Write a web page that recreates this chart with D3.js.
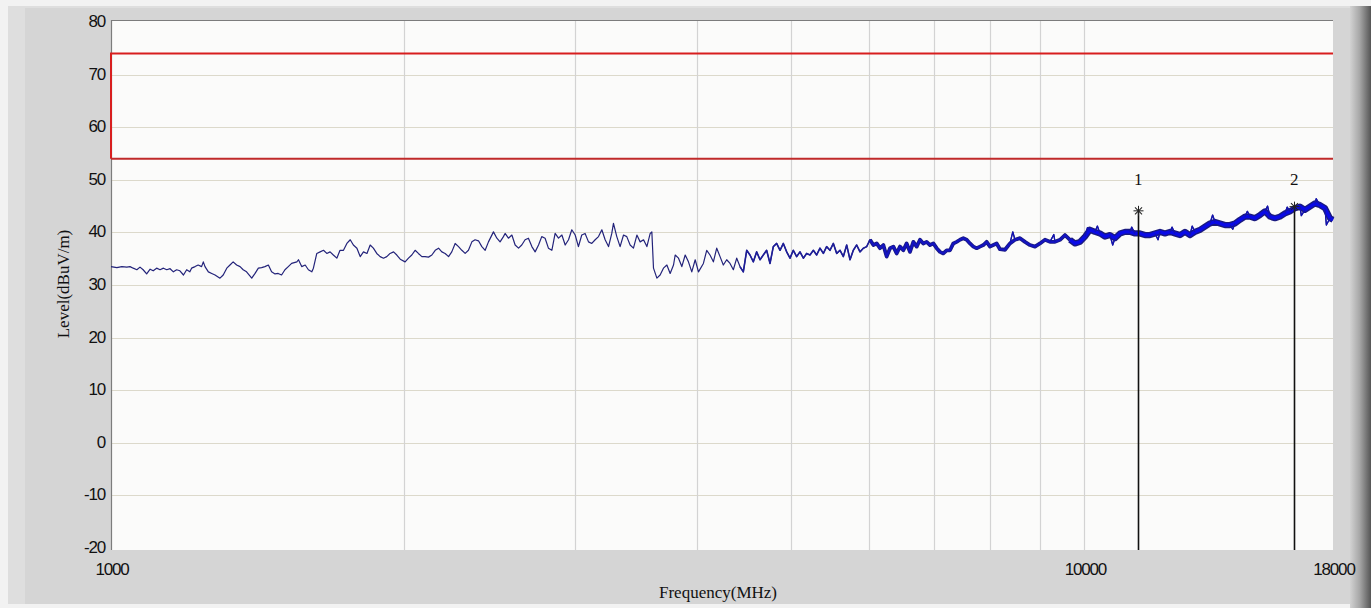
<!DOCTYPE html>
<html>
<head>
<meta charset="utf-8">
<script src="https://cdn.jsdelivr.net/npm/d3@7/dist/d3.min.js"></script>
<style>
  body { margin: 0; background: #d6d6d6; overflow: hidden; }
  svg { display: block; }
  .tick { font-family: "Liberation Sans", Arial, sans-serif; font-size: 17px; letter-spacing: -1.2px; fill: #111; }
  .title { font-family: "Liberation Serif", "Times New Roman", serif; font-size: 17px; fill: #111; }
</style>
</head>
<body>
<svg id="chart" width="1371" height="608"></svg>
<script>
// ---- data ----
var yTicks = [-20, -10, 0, 10, 20, 30, 40, 50, 60, 70, 80];
var xGrid = [2000, 3000, 4000, 5000, 6000, 7000, 8000, 9000, 10000];
var xLabels = [1000, 10000, 18000];

// limit lines (dBuV/m)
var limitMHz = [1000, 18000];
var limitPeak = [74, 74];
var limitAvg = [54, 54];

// measured trace
var traceMHz = [
  1000, 1014, 1026, 1038, 1046, 1054, 1063, 1071, 1079, 1088, 1097, 1105, 1114, 1123, 1132, 1141,
  1150, 1159, 1168, 1177, 1187, 1196, 1205, 1210, 1220, 1229, 1239, 1244, 1249, 1259, 1269, 1279,
  1294, 1304, 1315, 1325, 1335, 1346, 1357, 1367, 1378, 1395, 1406, 1417, 1428, 1439, 1451, 1462,
  1474, 1485, 1497, 1509, 1521, 1533, 1552, 1558, 1570, 1583, 1595, 1608, 1614, 1627, 1640, 1653,
  1666, 1679, 1692, 1706, 1719, 1733, 1747, 1761, 1774, 1789, 1803, 1817, 1832, 1846, 1860, 1875,
  1890, 1905, 1920, 1935, 1951, 1966, 1982,
  2005, 2021, 2037, 2053, 2069, 2086, 2102, 2119, 2136, 2153, 2170, 2187, 2204, 2222, 2239, 2257,
  2275, 2293, 2311, 2329, 2348, 2366, 2385, 2404, 2423, 2442, 2471, 2491, 2510, 2530, 2540, 2560,
  2581, 2601, 2622, 2642, 2663, 2684, 2706, 2727, 2749, 2770, 2792, 2814, 2837, 2859, 2882, 2905,
  2928, 2951, 2974, 2998, 3021, 3045, 3069, 3094, 3118, 3143, 3168, 3193, 3218, 3244, 3269, 3282,
  3308, 3334, 3361, 3387, 3414, 3441, 3469, 3496, 3524, 3552, 3580, 3594,
  3608, 3637, 3665, 3694, 3724, 3753, 3783, 3798, 3828, 3858, 3889, 3919, 3950, 3982, 4013,
  4060, 4092, 4124, 4157, 4190, 4223, 4256, 4290, 4324, 4358, 4393, 4427, 4462, 4498, 4533, 4569,
  4605, 4642, 4678, 4715, 4753, 4790, 4828, 4867, 4905, 4944, 4983, 5022, 5062, 5102, 5143, 5183,
  5224, 5266, 5307, 5349, 5392, 5434, 5477, 5521, 5565, 5609, 5653, 5698, 5743, 5788, 5834, 5880,
  5927, 5974, 6021, 6069, 6117, 6165, 6214, 6263, 6313, 6363, 6413, 6464, 6515, 6566, 6618, 6671,
  6724, 6777, 6830, 6884, 6939, 6994, 7049, 7105, 7161, 7218, 7275, 7333, 7391, 7449, 7508, 7568,
  7627, 7688, 7749, 7810, 7872, 7934, 7997, 8060, 8124, 8188,
  8286, 8384, 8484, 8585, 8687, 8790, 8895, 9001, 9108, 9216, 9326, 9437, 9549, 9663, 9778,
  9894, 10012, 10131, 10251, 10373, 10496, 10621, 10748, 10876, 11005, 11136, 11268, 11402,
  11538, 11675, 11814, 11955, 12097, 12241, 12386, 12534, 12683, 12834, 12986, 13141, 13297, 13455, 13615,
  13777, 13941, 14107, 14275, 14445, 14617, 14790, 14966, 15144, 15325, 15507, 15691, 15878, 16067, 16258,
  16451, 16647, 16845, 17045, 17248, 17453, 17661, 17871, 18000
];
var traceDb = [
  33.5, 33.3, 33.5, 33.4, 33.5, 33.2, 32.9, 33.4, 32.9, 32.1, 33.0, 32.7, 33.2, 32.9, 33.2, 32.9,
  33.1, 32.5, 32.9, 32.7, 31.9, 32.9, 32.5, 33.2, 33.5, 33.8, 33.5, 34.4, 33.5, 32.5, 32.2, 31.9,
  31.3, 31.9, 33.2, 33.8, 34.4, 33.8, 33.5, 32.9, 32.5, 31.3, 32.2, 33.2, 33.3, 33.5, 33.8, 32.5,
  32.1, 32.2, 31.9, 32.9, 33.5, 34.1, 34.4, 34.8, 33.5, 33.8, 32.9, 32.5, 33.2, 36.0, 36.3, 36.6,
  36.0, 36.3, 35.7, 35.1, 36.6, 36.6, 37.9, 38.6, 37.6, 37.0, 35.4, 36.3, 36.0, 37.6, 37.0, 36.0,
  35.4, 35.1, 35.4, 36.0, 36.3, 35.7, 34.9,
  34.4, 35.1, 35.7, 36.6, 36.0, 35.4, 35.4, 35.3, 35.7, 36.6, 37.0, 36.3, 36.0, 35.4, 36.3, 37.9,
  37.3, 36.6, 36.0, 36.6, 38.2, 38.6, 38.4, 37.3, 36.6, 38.2, 40.1, 38.9, 38.2, 39.2, 39.8, 38.9,
  39.5, 37.6, 37.0, 37.6, 38.6, 38.9, 37.3, 36.3, 37.6, 39.2, 38.9, 37.0, 36.6, 39.8, 38.9, 39.5,
  37.6, 38.6, 40.5, 39.5, 37.3, 39.5, 39.8, 38.2, 37.9, 38.6, 39.2, 40.5, 38.6, 37.3, 39.8, 41.7,
  39.2, 37.3, 39.5, 39.2, 37.6, 37.0, 39.5, 38.2, 38.6, 37.3, 39.8, 40.1,
  33.2, 31.3, 31.9, 33.2, 33.8, 32.2, 33.8, 35.7, 35.1, 33.5, 35.7, 34.4, 32.5, 34.8, 32.5,
  34.1, 36.6, 35.7, 34.4, 37.0, 35.4, 33.8, 34.8, 34.1, 32.9, 35.1, 33.5, 32.5, 36.6, 35.7, 34.4,
  36.3, 34.8, 35.7, 36.6, 34.1, 37.3, 37.9, 36.6, 37.9, 36.3, 35.1, 36.6, 35.4, 36.3, 35.1, 36.0,
  35.7, 36.6, 35.7, 37.0, 36.0, 37.3, 36.6, 37.9, 36.0, 36.6, 35.4, 37.6, 34.8, 36.6, 37.6, 36.3,
  37.0, 37.3, 38.6, 37.6, 37.9, 37.0, 37.6, 35.4, 37.0, 37.3, 36.0, 37.3, 36.6, 37.9, 36.3, 38.2,
  37.3, 38.6, 37.9, 38.2, 37.6, 37.9, 37.0, 36.3, 36.0, 36.6, 36.6, 37.9, 38.2, 38.6, 38.9, 38.6,
  37.9, 37.3, 37.0, 37.3, 37.6, 38.2, 37.3, 37.6, 37.9, 36.8,
  36.7, 37.9, 38.6, 38.9, 38.2, 37.6, 37.3, 37.9, 38.6, 38.2, 38.2, 38.6, 39.5, 38.6, 37.9,
  38.2, 39.2, 40.5, 40.1, 39.8, 39.2, 39.5, 38.9, 39.8, 40.1, 40.1, 39.8, 39.8,
  39.5, 39.5, 39.8, 40.1, 39.8, 40.1, 39.8, 39.5, 40.1, 39.5, 40.1, 40.5, 41.1, 41.7, 42.0,
  41.7, 41.4, 41.4, 41.7, 42.4, 43.0, 43.0, 42.7, 43.3, 44.0, 43.0, 42.7, 43.0, 43.6, 44.0,
  44.6, 44.9, 44.3, 44.9, 45.5, 45.2, 44.6, 42.7, 42.4
];

// narrow spikes sticking out of the dense part of the sweep
var spikeMHz = [8440, 9300, 10070, 10310, 10690, 11180, 11900, 12300, 12900, 13540, 14200, 14700, 15420, 16150, 16700, 17300, 17720];
var spikeDb = [40.1, 39.6, 40.9, 41.2, 37.6, 41.0, 38.6, 41.0, 41.2, 43.3, 40.6, 44.0, 45.0, 44.8, 43.2, 46.4, 41.4];

// markers
var markerNames = ["1", "2"];
var markerMHz = [11355, 16425];
var markerDb = [44.1, 44.9];
var markerLabelDb = 49.1;

// ---- layout ----
var W = 1371, H = 608;
var plot = { left: 111, right: 1333, top: 20, bottom: 550 };

var svg = d3.select("#chart");

var x = d3.scaleLog().domain([1000, 18000]).range([plot.left, plot.right]);
var y = d3.scaleLinear().domain([-20, 80]).range([548, 22]);

// window frame
var defs = svg.append("defs");
var grad = defs.append("linearGradient").attr("id", "edge").attr("x1", 0).attr("x2", 1).attr("y1", 0).attr("y2", 0);
grad.append("stop").attr("offset", "0%").attr("stop-color", "#d2d2d2");
grad.append("stop").attr("offset", "45%").attr("stop-color", "#a8a8a8");
grad.append("stop").attr("offset", "100%").attr("stop-color", "#555");

svg.append("rect").attr("width", W).attr("height", H).attr("fill", "#f2f2f2");
svg.append("rect").attr("x", 8).attr("y", 6).attr("width", W - 8).attr("height", H - 10).attr("fill", "#dedede");
svg.append("rect").attr("x", 25).attr("y", 8).attr("width", 1325).attr("height", H - 12).attr("fill", "#d5d5d5");
svg.append("rect").attr("x", 1350).attr("y", 6).attr("width", 21).attr("height", H - 6).attr("fill", "url(#edge)");

// plot area
svg.append("rect")
  .attr("x", plot.left).attr("y", plot.top)
  .attr("width", plot.right - plot.left).attr("height", plot.bottom - plot.top)
  .attr("fill", "#fbfbfa");

// grid
svg.append("g").selectAll("line")
  .data(yTicks.filter(function(d) { return d > -20 && d < 80; }))
  .enter().append("line")
    .attr("x1", plot.left).attr("x2", plot.right)
    .attr("y1", function(d) { return Math.round(y(d)) + 0.5; })
    .attr("y2", function(d) { return Math.round(y(d)) + 0.5; })
    .attr("stroke", "#dcd9cb").attr("stroke-width", 1.2);

svg.append("g").selectAll("line")
  .data(xGrid)
  .enter().append("line")
    .attr("x1", function(d) { return Math.round(x(d)) + 0.5; })
    .attr("x2", function(d) { return Math.round(x(d)) + 0.5; })
    .attr("y1", plot.top).attr("y2", plot.bottom)
    .attr("stroke", "#d3d3d3").attr("stroke-width", 1.2);

// plot border (top and left)
svg.append("path")
  .attr("d", "M" + (plot.left + 0.5) + "," + plot.bottom + "V" + (plot.top + 0.5) + "H" + plot.right)
  .attr("fill", "none").attr("stroke", "#7c7c7c").attr("stroke-width", 1.2);

// y tick labels
svg.append("g").selectAll("text")
  .data(yTicks)
  .enter().append("text")
    .attr("class", "tick")
    .attr("x", 105)
    .attr("y", function(d) { return y(d) - 1; })
    .attr("dy", "0.35em")
    .attr("text-anchor", "end")
    .text(function(d) { return d; });

// x tick labels
svg.append("g").selectAll("text")
  .data(xLabels)
  .enter().append("text")
    .attr("class", "tick")
    .attr("x", function(d) { return x(d) + 1; })
    .attr("y", 575)
    .attr("text-anchor", "middle")
    .text(function(d) { return d; });

// axis titles
svg.append("text").attr("class", "title")
  .attr("transform", "translate(69,284)rotate(-90)")
  .attr("text-anchor", "middle")
  .text("Level(dBuV/m)");
svg.append("text").attr("class", "title")
  .attr("x", 718).attr("y", 598)
  .attr("text-anchor", "middle")
  .text("Frequency(MHz)");

// limit lines
var limitLine = d3.line()
  .x(function(d) { return x(d[0]); })
  .y(function(d) { return y(d[1]); });
var peakPts = limitMHz.map(function(f, i) { return [f, limitPeak[i]]; });
var avgPts = limitMHz.map(function(f, i) { return [f, limitAvg[i]]; });
svg.append("path")
  .attr("d", limitLine([avgPts[0]].concat(peakPts)))
  .attr("fill", "none").attr("stroke", "#d81e1e").attr("stroke-width", 2);
svg.append("path")
  .attr("d", limitLine(avgPts))
  .attr("fill", "none").attr("stroke", "#c02a2a").attr("stroke-width", 2);

// trace
var pts = traceMHz.map(function(f, i) { return { f: f, db: traceDb[i], spike: false }; });
var withSpikes = pts.concat(spikeMHz.map(function(f, i) { return { f: f, db: spikeDb[i], spike: true }; }))
  .sort(function(a, b) { return a.f - b.f; });

var line = d3.line()
  .x(function(d) { return x(d.f); })
  .y(function(d) { return y(d.db); });

svg.append("path")
  .attr("d", line(withSpikes))
  .attr("fill", "none").attr("stroke", "#23237a").attr("stroke-width", 1.2)
  .attr("stroke-linejoin", "round");

// denser sweep sections look heavier: dark edge then blue core
var heavy = [
  { lo: 4400, hi: 6100, w: 1.6, c: "#1e1e98", edge: 0 },
  { lo: 6000, hi: 9700, w: 2.2, c: "#1414c0", edge: 0.8 },
  { lo: 9600, hi: 18000, w: 3.4, c: "#0a0ae6", edge: 1.4 }
];
heavy.forEach(function(b) {
  var seg = pts.filter(function(p) { return p.f >= b.lo && p.f <= b.hi; });
  if (b.edge) {
    svg.append("path")
      .attr("d", line(seg))
      .attr("fill", "none").attr("stroke", "#1a1a80").attr("stroke-width", b.w + b.edge * 2)
      .attr("stroke-linejoin", "round");
  }
  svg.append("path")
    .attr("d", line(seg))
    .attr("fill", "none").attr("stroke", b.c).attr("stroke-width", b.w)
    .attr("stroke-linejoin", "round");
});

// spikes drawn again on top so they poke out of the band
withSpikes.forEach(function(p, i) {
  if (!p.spike || i === 0 || i === withSpikes.length - 1) return;
  svg.append("path")
    .attr("d", line([withSpikes[i - 1], p, withSpikes[i + 1]]))
    .attr("fill", "none").attr("stroke", "#1212b0").attr("stroke-width", 1.3)
    .attr("stroke-linejoin", "round");
});

// markers
var mk = svg.append("g").selectAll("g")
  .data(markerNames.map(function(n, i) { return { name: n, f: markerMHz[i], db: markerDb[i] }; }))
  .enter().append("g");

mk.append("line")
  .attr("x1", function(d) { return Math.round(x(d.f)) + 0.5; })
  .attr("x2", function(d) { return Math.round(x(d.f)) + 0.5; })
  .attr("y1", function(d) { return y(d.db); })
  .attr("y2", plot.bottom)
  .attr("stroke", "#111").attr("stroke-width", 1.6);

mk.append("text")
  .attr("class", "title")
  .attr("x", function(d) { return x(d.f); })
  .attr("y", y(markerLabelDb))
  .attr("text-anchor", "middle")
  .style("font-size", "17px")
  .text(function(d) { return d.name; });

// asterisk on the marker point
var star = mk.append("g")
  .attr("transform", function(d) { return "translate(" + (Math.round(x(d.f)) + 0.5) + "," + y(d.db) + ")"; });
[0, 45, 90, 135].forEach(function(a) {
  star.append("line")
    .attr("x1", -5).attr("x2", 5).attr("y1", 0).attr("y2", 0)
    .attr("transform", "rotate(" + a + ")")
    .attr("stroke", "#222").attr("stroke-width", 1);
});
</script>
</body>
</html>
